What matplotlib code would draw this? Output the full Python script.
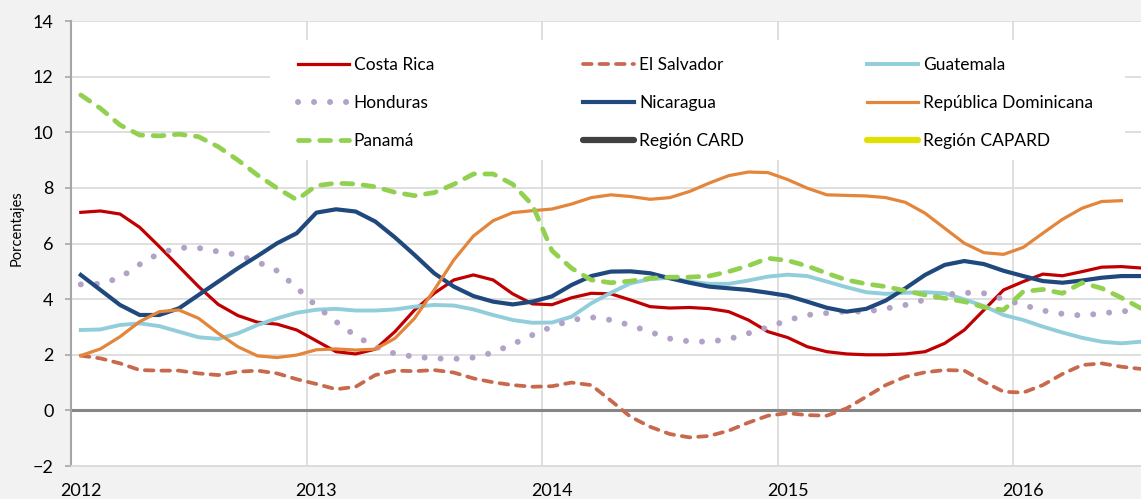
import numpy as np
import matplotlib
matplotlib.use("Agg")
import matplotlib.pyplot as plt
from matplotlib.patches import Rectangle
from matplotlib.legend import Legend

plt.rcParams['font.family'] = ['Lato', 'DejaVu Sans']

# monthly series, Jan 2012 - Jul 2016 (percent)
years = ['2012', '2013', '2014', '2015', '2016']

costa_rica = [7.12, 7.17, 7.06, 6.58, 5.89, 5.17, 4.45, 3.81, 3.41, 3.17, 3.10, 2.89,
              2.50, 2.11, 2.03, 2.20, 2.83, 3.61, 4.21, 4.69, 4.87, 4.69, 4.19, 3.83,
              3.80, 4.05, 4.21, 4.19, 3.97, 3.73, 3.68, 3.70, 3.66, 3.55, 3.25, 2.83,
              2.62, 2.29, 2.11, 2.03, 2.00, 2.00, 2.03, 2.11, 2.41, 2.89, 3.61, 4.33,
              4.63, 4.90, 4.84, 4.99, 5.15, 5.17, 5.12]
el_salvador = [1.97, 1.87, 1.69, 1.45, 1.43, 1.43, 1.33, 1.27, 1.39, 1.43, 1.33, 1.12,
               0.95, 0.76, 0.85, 1.27, 1.43, 1.41, 1.45, 1.36, 1.15, 1.01, 0.91, 0.85,
               0.87, 1.00, 0.91, 0.35, -0.23, -0.59, -0.85, -0.97, -0.92, -0.73, -0.44, -0.19,
               -0.10, -0.17, -0.19, 0.07, 0.49, 0.91, 1.21, 1.37, 1.45, 1.43, 1.03, 0.67,
               0.64, 0.91, 1.31, 1.63, 1.69, 1.57, 1.49]
guatemala = [2.89, 2.91, 3.07, 3.13, 3.03, 2.83, 2.63, 2.57, 2.77, 3.07, 3.31, 3.51,
             3.62, 3.65, 3.59, 3.59, 3.63, 3.73, 3.79, 3.77, 3.63, 3.43, 3.25, 3.15,
             3.16, 3.37, 3.85, 4.23, 4.57, 4.72, 4.77, 4.63, 4.55, 4.55, 4.67, 4.81,
             4.88, 4.83, 4.63, 4.43, 4.25, 4.19, 4.23, 4.25, 4.21, 3.99, 3.75, 3.43,
             3.25, 3.01, 2.80, 2.61, 2.47, 2.41, 2.47]
honduras = [4.53, 4.55, 4.77, 5.25, 5.65, 5.85, 5.84, 5.71, 5.59, 5.34, 5.02, 4.41,
            3.75, 3.19, 2.68, 2.29, 2.04, 1.93, 1.87, 1.85, 1.90, 2.08, 2.38, 2.71,
            3.01, 3.25, 3.35, 3.25, 3.06, 2.82, 2.58, 2.48, 2.47, 2.56, 2.77, 2.99,
            3.24, 3.43, 3.50, 3.56, 3.55, 3.66, 3.79, 3.98, 4.16, 4.23, 4.21, 4.00,
            3.79, 3.59, 3.47, 3.41, 3.49, 3.56, 3.60]
nicaragua = [4.87, 4.33, 3.79, 3.43, 3.43, 3.67, 4.15, 4.63, 5.11, 5.55, 6.01, 6.37,
             7.11, 7.23, 7.15, 6.79, 6.22, 5.59, 4.93, 4.45, 4.11, 3.91, 3.81, 3.91,
             4.10, 4.51, 4.83, 4.99, 5.00, 4.93, 4.75, 4.59, 4.45, 4.39, 4.33, 4.23,
             4.12, 3.91, 3.69, 3.55, 3.65, 3.95, 4.39, 4.87, 5.23, 5.37, 5.26, 5.02,
             4.83, 4.65, 4.59, 4.67, 4.77, 4.83, 4.83]
rep_dominicana = [1.97, 2.21, 2.65, 3.19, 3.55, 3.61, 3.31, 2.77, 2.29, 1.96, 1.90, 1.99,
                  2.18, 2.21, 2.17, 2.20, 2.59, 3.31, 4.33, 5.41, 6.27, 6.82, 7.11, 7.18,
                  7.24, 7.42, 7.65, 7.75, 7.69, 7.59, 7.65, 7.87, 8.17, 8.44, 8.57, 8.55,
                  8.30, 7.99, 7.75, 7.73, 7.71, 7.65, 7.48, 7.09, 6.55, 6.01, 5.67, 5.61,
                  5.86, 6.37, 6.87, 7.27, 7.51, 7.54]
panama = [11.34, 10.86, 10.26, 9.90, 9.87, 9.93, 9.84, 9.48, 9.00, 8.46, 7.99, 7.57,
          8.08, 8.17, 8.14, 8.04, 7.84, 7.72, 7.83, 8.13, 8.50, 8.50, 8.13, 7.39,
          5.74, 5.11, 4.69, 4.59, 4.65, 4.75, 4.79, 4.79, 4.83, 4.99, 5.20, 5.47,
          5.39, 5.19, 4.93, 4.69, 4.55, 4.45, 4.30, 4.15, 4.03, 3.91, 3.71, 3.61,
          4.27, 4.35, 4.21, 4.59, 4.39, 4.05, 3.67]

series = [
    ('Costa Rica', costa_rica, dict(color='#C00000', lw=2.3)),
    ('El Salvador', el_salvador, dict(color='#C8694E', lw=2.7, dashes=(2.3, 2.1),
                                      dash_capstyle='round')),
    ('Guatemala', guatemala, dict(color='#92CDDC', lw=2.8)),
    ('Honduras', honduras, dict(color='#B3A2C7', lw=4.3, dashes=(0.01, 2.67),
                                dash_capstyle='round')),
    ('Nicaragua', nicaragua, dict(color='#1F497D', lw=3.0)),
    ('República Dominicana', rep_dominicana, dict(color='#E3853A', lw=2.3)),
    ('Panamá', panama, dict(color='#92D050', lw=3.4, dashes=(2.3, 2.2),
                            dash_capstyle='round')),
    ('Región CARD', [], dict(color='#404040', lw=4.5, solid_capstyle='round')),
    ('Región CAPARD', [], dict(color='#E2E000', lw=4.5, solid_capstyle='round')),
]

fig = plt.figure(figsize=(11.41, 4.99), dpi=100)
fig.patch.set_facecolor('#F2F2F2')
ax = fig.add_axes([0.0622, 0.0661, 0.9378, 0.8918])
ax.set_facecolor('white')

handles = {}
for name, vals, style in series:
    h, = ax.plot(np.arange(len(vals)), vals, label=name, **style)
    handles[name] = h

ax.set_xlim(-0.5, 54.0)
ax.set_ylim(-2, 14)
ax.set_yticks(range(-2, 15, 2))
ax.set_xticks(np.arange(len(years)) * 12)
ax.set_xticklabels(years)
ax.set_xticks(np.arange(1, len(years)) * 12 - 0.5, minor=True)

ax.set_axisbelow(True)
ax.grid(axis='y', color='#D9D9D9', lw=1.2)
ax.grid(axis='x', which='minor', color='#D9D9D9', lw=1.2)
ax.axhline(0, color='#868686', lw=2.2, zorder=1.5)

for s in ['top', 'right']:
    ax.spines[s].set_visible(False)
ax.spines['left'].set_color('#A6A6A6')
ax.spines['left'].set_linewidth(1.5)
ax.spines['bottom'].set_color('#D9D9D9')
ax.spines['bottom'].set_linewidth(1.2)

ax.tick_params(axis='y', length=4.5, width=1.2, color='#A6A6A6', pad=8, labelsize=13)
ax.tick_params(axis='x', which='both', length=0, pad=12, labelsize=13)
ax.set_ylabel('Porcentajes', fontsize=10.5)
ax.yaxis.set_label_coords(-0.044, 0.535)

# white legend area hides the gridlines behind it
ax.add_patch(Rectangle(((270 - 71) / 1070, (466 - 160) / 445), 855 / 1070, 120 / 445,
                       transform=ax.transAxes, facecolor='white', edgecolor='none', zorder=1))

# one legend per column so the columns line up like the original
columns = [['Costa Rica', 'Honduras', 'Panamá'],
           ['El Salvador', 'Nicaragua', 'Región CARD'],
           ['Guatemala', 'República Dominicana', 'Región CAPARD']]
col_x = [0.2121, 0.4785, 0.7439]
for names, x0 in zip(columns, col_x):
    leg = Legend(ax, [handles[n] for n in names], names, loc='upper left',
                 bbox_to_anchor=(x0, 0.919), frameon=False, fontsize=12.5,
                 handlelength=2.93, handletextpad=0.29, labelspacing=1.28,
                 borderpad=0, borderaxespad=0)
    ax.add_artist(leg)

fig.savefig('out.png', dpi=100, facecolor=fig.get_facecolor())
